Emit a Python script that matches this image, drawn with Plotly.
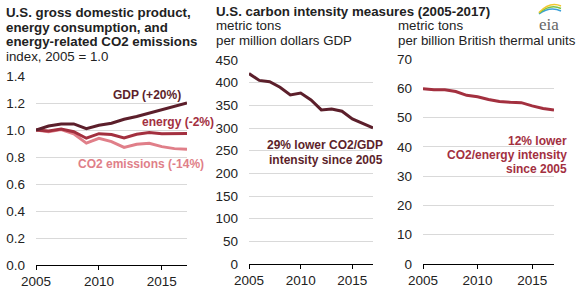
import plotly.graph_objects as go

years = list(range(2005, 2018))

# index, 2005 = 1.0
gdp_index = [1.0, 1.03, 1.045, 1.045, 1.01, 1.035, 1.05, 1.08, 1.10, 1.125, 1.155, 1.175, 1.20]
energy_index = [1.0, 0.993, 1.008, 0.987, 0.939, 0.973, 0.967, 0.942, 0.969, 0.981, 0.972, 0.972, 0.975]
co2_index = [1.0, 0.987, 1.003, 0.971, 0.903, 0.939, 0.914, 0.871, 0.895, 0.902, 0.877, 0.862, 0.857]

# metric tons per million dollars GDP
co2_per_gdp = [420, 405, 402, 390, 373, 377, 362, 340, 342, 337, 320, 310, 300]
# metric tons per billion Btu
co2_per_energy = [59.8, 59.5, 59.5, 58.9, 57.6, 57.1, 56.2, 55.5, 55.2, 55.1, 54.0, 53.1, 52.6]

x_ticks = [2005, 2010, 2015]
y1_ticks = [0, 0.2, 0.4, 0.6, 0.8, 1.0, 1.2, 1.4]
y1_labels = ["0.0", "0.2", "0.4", "0.6", "0.8", "1.0", "1.2", "1.4"]
y2_ticks = list(range(0, 451, 50))
y3_ticks = list(range(0, 71, 10))

C_GDP = "#5c1f2b"
C_ENERGY = "#a3303f"
C_CO2 = "#e07f89"
FONT = "Liberation Sans, Arial, sans-serif"
W, H = 583, 290

fig = go.Figure()
fig.add_trace(go.Scatter(x=years, y=co2_index, mode="lines", line=dict(color=C_CO2, width=3), xaxis="x", yaxis="y"))
fig.add_trace(go.Scatter(x=years, y=energy_index, mode="lines", line=dict(color=C_ENERGY, width=3), xaxis="x", yaxis="y"))
fig.add_trace(go.Scatter(x=years, y=gdp_index, mode="lines", line=dict(color=C_GDP, width=3), xaxis="x", yaxis="y"))
fig.add_trace(go.Scatter(x=years, y=co2_per_gdp, mode="lines", line=dict(color=C_GDP, width=3), xaxis="x2", yaxis="y2"))
fig.add_trace(go.Scatter(x=years, y=co2_per_energy, mode="lines", line=dict(color=C_ENERGY, width=3), xaxis="x3", yaxis="y3"))

def px_x(p):
    return p / W

def px_y(p):
    return (H - p) / H

def xaxis(dom, anchor):
    return dict(domain=dom, anchor=anchor, range=[2005, 2017], tickvals=x_ticks,
                showgrid=False, showline=True, linecolor="black", linewidth=1,
                ticks="outside", ticklen=4, tickcolor="black", zeroline=False,
                automargin=False,
                tickfont=dict(size=13.5, color="#222", family=FONT), fixedrange=True)

def yaxis(dom, anchor, rng, tv, tt=None):
    return dict(domain=dom, anchor=anchor, range=rng, tickvals=tv, ticktext=tt,
                showgrid=True, gridcolor="#d9d9d9", gridwidth=1, zeroline=False,
                showline=False, ticks="", ticklabelstandoff=10, automargin=False,
                tickfont=dict(size=13.5, color="#222", family=FONT), fixedrange=True)

fig.update_layout(
    width=W, height=H,
    margin=dict(l=0, r=0, t=0, b=0),
    paper_bgcolor="white", plot_bgcolor="white",
    showlegend=False, hovermode=False,
    font=dict(family=FONT),
    xaxis=xaxis([px_x(36), px_x(187)], "y"),
    yaxis=yaxis([px_y(265), px_y(76)], "x", [0, 1.4], y1_ticks, y1_labels),
    xaxis2=xaxis([px_x(249), px_x(373)], "y2"),
    yaxis2=yaxis([px_y(264), px_y(60)], "x2", [0, 450], y2_ticks),
    xaxis3=xaxis([px_x(423), px_x(554)], "y3"),
    yaxis3=yaxis([px_y(264), px_y(59)], "x3", [0, 70], y3_ticks),
)

def text(s, x, y, size=13.3, bold=False, color="#222", anchor="left"):
    fig.add_annotation(text=f"<b>{s}</b>" if bold else s, xref="paper", yref="paper",
                       x=px_x(x), y=px_y(y), xanchor=anchor, yanchor="middle",
                       showarrow=False, font=dict(size=size, color=color, family=FONT))

# titles
text("U.S. gross domestic product,", 4, 13, bold=True)
text("energy consumption, and", 4, 28, bold=True)
text("energy-related CO2 emissions", 4, 42, bold=True)
text("index, 2005 = 1.0", 4, 57)
text("U.S. carbon intensity measures (2005-2017)", 214, 12, bold=True)
text("metric tons", 214, 26)
text("per million dollars GDP", 214, 41)
text("metric tons", 396, 26)
text("per billion British thermal units", 396, 41)

# series labels
text("GDP (+20%)", 183, 95, size=12, bold=True, color=C_GDP, anchor="right")
text("energy (-2%)", 140, 122, size=12, bold=True, color=C_ENERGY)
text("CO2 emissions (-14%)", 76, 164, size=12, bold=True, color=C_CO2)
text("29% lower CO2/GDP", 385, 145, size=12, bold=True, color=C_GDP, anchor="right")
text("intensity since 2005", 385, 160, size=12, bold=True, color=C_GDP, anchor="right")
text("12% lower", 569, 141, size=12, bold=True, color=C_ENERGY, anchor="right")
text("CO2/energy intensity", 569, 155, size=12, bold=True, color=C_ENERGY, anchor="right")
text("since 2005", 569, 169, size=12, bold=True, color=C_ENERGY, anchor="right")

# eia logo
fig.add_annotation(text="eia", xref="paper", yref="paper", x=px_x(549), y=px_y(24),
                   xanchor="center", yanchor="middle", showarrow=False,
                   font=dict(size=17, color="#666", family="Liberation Serif, serif"))
for col, dy in [("#3aa0d8", 0), ("#7cc242", 2.5), ("#f2c82f", 5)]:
    x0, x1 = px_x(539), px_x(561)
    cx, cy = px_x(550), px_y(6 - dy)
    fig.add_shape(type="path", xref="paper", yref="paper",
                  path=f"M {x0} {px_y(14 - dy * 0.3)} Q {cx} {cy} {x1} {px_y(11 - dy)}",
                  line=dict(color=col, width=1.5))

fig.write_html("out.html", config=dict(displayModeBar=False, staticPlot=True),
               post_script="document.body.style.margin='0';document.body.style.overflow='hidden';")
